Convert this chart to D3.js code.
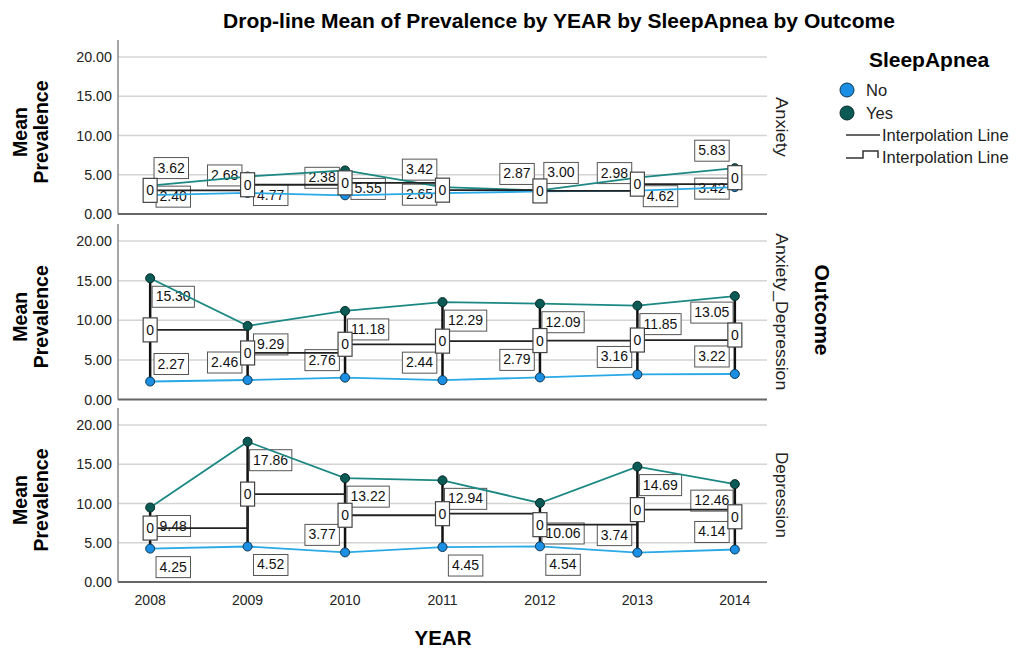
<!DOCTYPE html>
<html><head><meta charset="utf-8">
<script src="https://cdn.jsdelivr.net/npm/d3@7"></script>
<style>body{margin:0;background:#fff}svg{display:block;font-family:"Liberation Sans",Arial,sans-serif}</style>
</head><body><svg id="c" width="1027" height="651"></svg>
<script>
const years = ["2008","2009","2010","2011","2012","2013","2014"];
const outcomes = ["Anxiety","Anxiety_Depression","Depression"];
const noValues = {
  Anxiety:            [2.40, 2.68, 2.38, 2.65, 2.87, 2.98, 3.42],
  Anxiety_Depression: [2.27, 2.46, 2.76, 2.44, 2.79, 3.16, 3.22],
  Depression:         [4.25, 4.52, 3.77, 4.45, 4.54, 3.74, 4.14]
};
const yesValues = {
  Anxiety:            [3.62, 4.77, 5.55, 3.42, 3.00, 4.62, 5.83],
  Anxiety_Depression: [15.30, 9.29, 11.18, 12.29, 12.09, 11.85, 13.05],
  Depression:         [9.48, 17.86, 13.22, 12.94, 10.06, 14.69, 12.46]
};
const yTicks = [0, 5, 10, 15, 20];
const seriesNames = ["No","Yes"];

// label placement codes (layout only)
const placeNo = {
  Anxiety: ["r","la","la","l","la","la","l"],
  Anxiety_Depression: ["ra","la","la","la","la","la","la"],
  Depression: ["rb","rb","la","rb","rb","la","la"]
};
const placeYes = {
  Anxiety: ["ra","rb","rb","la","ra","rb","la"],
  Anxiety_Depression: ["rb","rb","rb","rb","rb","rb","lb"],
  Depression: ["rb","rb","rb","rb","rbb","rb","lb"]
};
const off = {r:[23,1], l:[-23,1], ra:[21,-18], la:[-23,-18], rb:[23,18], lb:[-23,16], rbb:[23,30]};
const facetLen = {Anxiety:60, Anxiety_Depression:157, Depression:86};

const colNoFill = "#1a8fe3", colNoLine = "#29a9e6";
const colYesFill = "#0b5a55", colYesLine = "#1b8883";

const svg = d3.select("#c");
const left = 118, right = 767;
const panels = [{top:40,bottom:214},{top:224,bottom:399.5},{top:408,bottom:582}];

const x = d3.scalePoint().domain(years).range([left, right]).padding(0.33);

svg.append("text").attr("x", 559).attr("y", 28).attr("text-anchor","middle")
  .attr("font-size", 21).attr("font-weight","bold").text("Drop-line Mean of Prevalence by YEAR by SleepApnea by Outcome");

outcomes.forEach((oc, pi) => {
  const p = panels[pi];
  const y = d3.scaleLinear().domain([0, 22.15]).range([p.bottom, p.top]);
  const g = svg.append("g");
  // grid
  g.selectAll("line.grid").data(yTicks.filter(t => t > 0)).join("line")
    .attr("x1", left).attr("x2", right).attr("y1", d => y(d)).attr("y2", d => y(d))
    .attr("stroke", "#d4d4d4").attr("stroke-width", 1.5);
  // y axis
  const ax = g.append("g").attr("transform", `translate(${left},0)`)
    .call(d3.axisLeft(y).tickValues(yTicks).tickSize(0).tickPadding(6).tickFormat(d3.format(".2f")));
  ax.select(".domain").remove();
  ax.selectAll("text").attr("font-size", 14.3).attr("fill","#222").attr("font-family",'"Liberation Sans",Arial,sans-serif');
  g.append("line").attr("x1", left).attr("x2", left).attr("y1", p.top).attr("y2", p.bottom)
    .attr("stroke", "#888").attr("stroke-width", 1.5);
  g.append("line").attr("x1", left).attr("x2", right).attr("y1", p.bottom).attr("y2", p.bottom)
    .attr("stroke", "#666").attr("stroke-width", 2);

  // y title
  const cy = (p.top + p.bottom) / 2 + 5;
  const yt = g.append("text").attr("transform", `translate(31,${cy}) rotate(-90)`)
    .attr("text-anchor","middle").attr("font-size", 19.5).attr("font-weight","bold");
  yt.append("tspan").attr("x",0).attr("dy",-4).text("Mean");
  yt.append("tspan").attr("x",0).attr("dy",21).text("Prevalence");

  // facet label
  g.append("text").attr("transform", `translate(776,${(p.top+p.bottom)/2 - facetLen[oc]/2}) rotate(90)`)
    .attr("font-size", 16).attr("fill","#222")
    .attr("textLength", facetLen[oc]).attr("lengthAdjust","spacingAndGlyphs").text(oc);

  const nv = noValues[oc], yv = yesValues[oc];
  const mids = nv.map((v, i) => (v + yv[i]) / 2);

  // value labels (under lines)
  const labels = [];
  years.forEach((yr, i) => {
    labels.push({x: x(yr), y: y(nv[i]), v: nv[i], code: placeNo[oc][i]});
    labels.push({x: x(yr), y: y(yv[i]), v: yv[i], code: placeYes[oc][i]});
  });
  labels.forEach(l => {
    const o = off[l.code];
    const cx = l.x + o[0], cyy = l.y + o[1];
    const txt = d3.format(".2f")(l.v);
    const t = g.append("text").attr("x", cx).attr("y", cyy + 5).attr("text-anchor","middle")
      .attr("font-size", 14).attr("fill","#111").text(txt);
    const bb = t.node().getBBox();
    g.insert("rect", () => t.node()).attr("x", bb.x - 3.5).attr("y", cyy - 10).attr("width", bb.width + 7).attr("height", 21)
      .attr("fill","#fff").attr("stroke","#555").attr("stroke-width",1);
  });

  // series lines
  const line = d3.line().x((d, i) => x(years[i])).y(d => y(d));
  g.append("path").attr("d", line(nv)).attr("fill","none").attr("stroke", colNoLine).attr("stroke-width", 1.8);
  g.append("path").attr("d", line(yv)).attr("fill","none").attr("stroke", colYesLine).attr("stroke-width", 1.8);

  // drop lines
  g.selectAll("line.drop").data(years).join("line")
    .attr("x1", d => x(d)).attr("x2", d => x(d))
    .attr("y1", (d, i) => y(nv[i])).attr("y2", (d, i) => y(yv[i]))
    .attr("stroke", "#111").attr("stroke-width", 2.5);

  // step interpolation line through means
  const step = d3.line().curve(d3.curveStepAfter).x((d, i) => x(years[i])).y(d => y(d));
  g.append("path").attr("d", step(mids)).attr("fill","none").attr("stroke", "#222").attr("stroke-width", 1.8);

  // points
  g.selectAll("circle.no").data(nv).join("circle")
    .attr("cx", (d, i) => x(years[i])).attr("cy", d => y(d)).attr("r", 4.5)
    .attr("fill", colNoFill).attr("stroke", "#0d3550").attr("stroke-width", 1);
  g.selectAll("circle.yes").data(yv).join("circle")
    .attr("cx", (d, i) => x(years[i])).attr("cy", d => y(d)).attr("r", 4.5)
    .attr("fill", colYesFill).attr("stroke", "#062b28").attr("stroke-width", 1);

  // mean "0" boxes
  mids.forEach((m, i) => {
    const cx = x(years[i]), c = y(m);
    g.append("rect").attr("x", cx - 7).attr("y", c - 12).attr("width", 14).attr("height", 24)
      .attr("fill","#fff").attr("stroke","#444").attr("stroke-width",1.2);
    g.append("text").attr("x", cx).attr("y", c + 5).attr("text-anchor","middle")
      .attr("font-size", 14).attr("fill","#111").text("0");
  });
});

// x axis labels
svg.append("g").selectAll("text").data(years).join("text")
  .attr("x", d => x(d)).attr("y", 605).attr("text-anchor","middle")
  .attr("font-size", 14).attr("fill","#222").text(d => d);
svg.append("text").attr("x", 443).attr("y", 645).attr("text-anchor","middle")
  .attr("font-size", 20.5).attr("font-weight","bold").text("YEAR");

// Outcome title
svg.append("text").attr("transform", "translate(815,310) rotate(90)").attr("text-anchor","middle")
  .attr("font-size", 21).attr("font-weight","bold").text("Outcome");

// legend
const lg = svg.append("g");
lg.append("text").attr("x", 929).attr("y", 67).attr("text-anchor","middle")
  .attr("font-size", 21).attr("font-weight","bold").text("SleepApnea");
[[colNoFill,"#0d3550"],[colYesFill,"#062b28"]].forEach((c, i) => {
  lg.append("circle").attr("cx", 847).attr("cy", 90 + i * 23).attr("r", 7)
    .attr("fill", c[0]).attr("stroke", c[1]).attr("stroke-width", 1);
  lg.append("text").attr("x", 866).attr("y", 96 + i * 23).attr("font-size", 16.5).attr("fill","#222").text(seriesNames[i]);
});
lg.append("line").attr("x1", 846).attr("x2", 880).attr("y1", 135).attr("y2", 135).attr("stroke","#333").attr("stroke-width",1.5);
lg.append("text").attr("x", 882).attr("y", 141).attr("font-size", 16.5).attr("fill","#222").text("Interpolation Line");
lg.append("path").attr("d", "M846,158 H863 V151 H878 V158").attr("fill","none").attr("stroke","#333").attr("stroke-width",1.5);
lg.append("text").attr("x", 882).attr("y", 163).attr("font-size", 16.5).attr("fill","#222").text("Interpolation Line");
</script></body></html>
